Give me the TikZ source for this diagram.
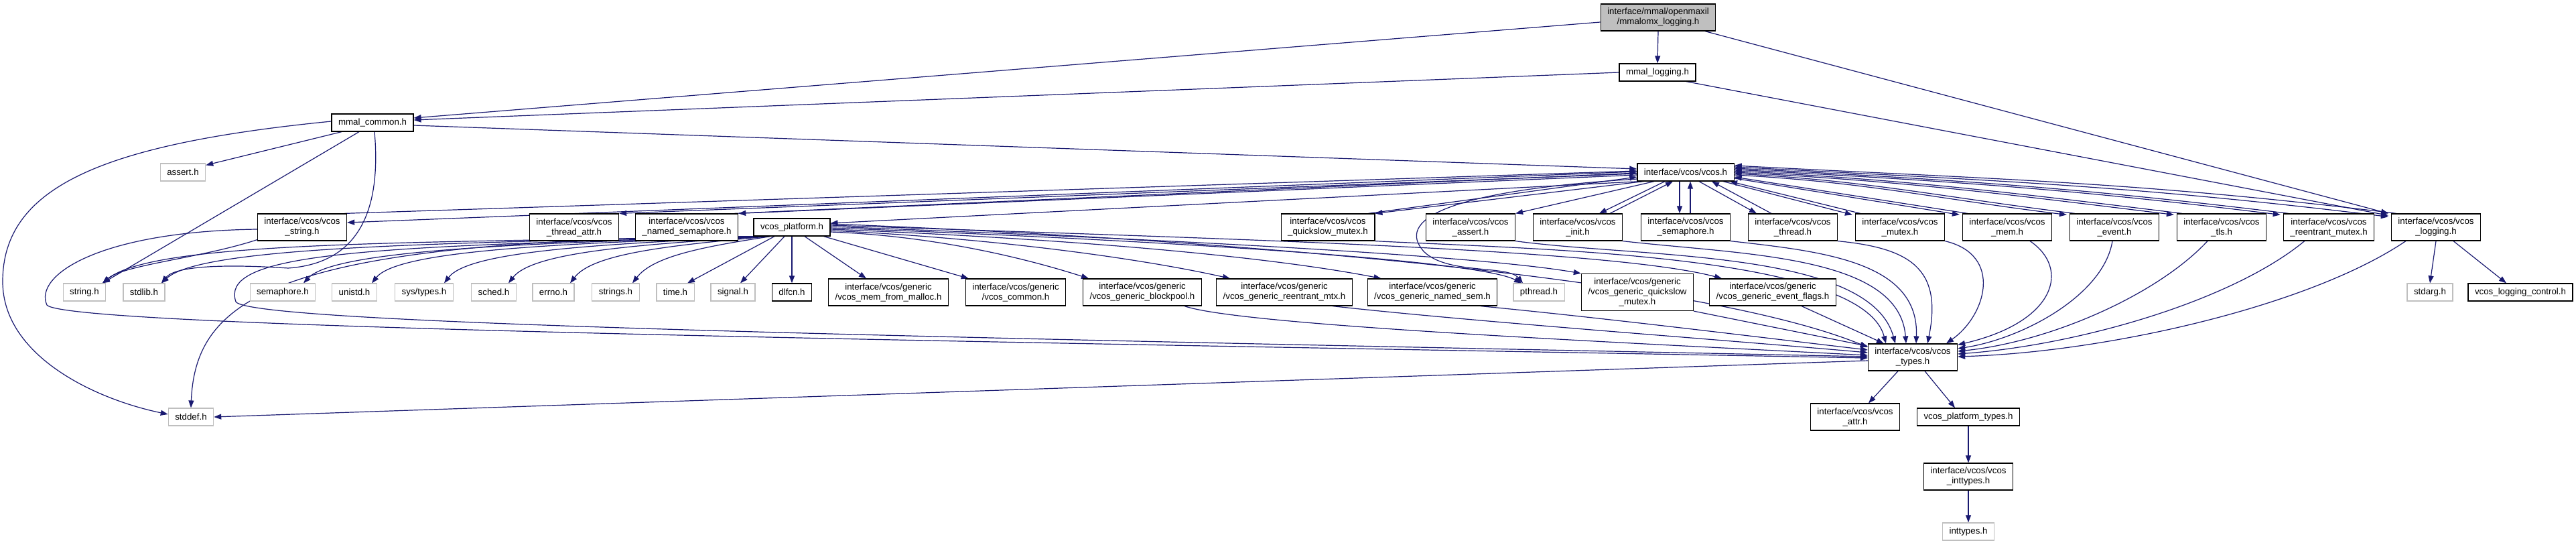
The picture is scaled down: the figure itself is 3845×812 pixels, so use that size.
\documentclass[tikz,border=0pt]{standalone}
\usepackage{fontspec}
\newfontfamily\dfont{Liberation Sans}
\usetikzlibrary{arrows.meta,calc}
\pgfdeclarelayer{edges}
\pgfsetlayers{edges,main}
\definecolor{edgeblue}{RGB}{25,25,112}
\definecolor{sysgray}{RGB}{191,191,191}
\definecolor{topgray}{RGB}{191,191,191}
\tikzset{
  nb/.style={rectangle, draw=black, fill=white, line width=1.2pt,
    font={\dfont\fontsize{13.3}{15}\selectfont}, inner xsep=10pt, inner ysep=0pt,
    minimum height=26pt, align=center},
  sb/.style={nb, draw=sysgray},
  two/.style={minimum height=40pt},
  three/.style={minimum height=55pt},
  topb/.style={fill=topgray},
  edge/.style={draw=edgeblue, line width=1.2pt, -{Triangle[length=11pt,width=8pt]}}
}
\begin{document}
\begin{tikzpicture}[x=1pt,y=-1pt]
\useasboundingbox (0,0) rectangle (3845,812);
% ---------- nodes ----------
\node[nb,two,topb] (top) at (2475,26) {interface/mmal/openmaxil\\/mmalomx\_logging.h};
\node[nb] (mlog) at (2474,108) {mmal\_logging.h};
\node[nb] (mcom) at (556,183) {mmal\_common.h};
\node[sb] (assert) at (273,257) {assert.h};
\node[nb] (vcos) at (2516,257) {interface/vcos/vcos.h};
% row 2
\node[nb,two] (vstring) at (451,339) {interface/vcos/vcos\\\_string.h};
\node[nb,two] (vtattr) at (857,339) {interface/vcos/vcos\\\_thread\_attr.h};
\node[nb,two] (vnsem) at (1025,339) {interface/vcos/vcos\\\_named\_semaphore.h};
\node[nb] (vplat) at (1182,339) {vcos\_platform.h};
\node[nb,two] (vqs) at (1982,339) {interface/vcos/vcos\\\_quickslow\_mutex.h};
\node[nb,two] (vassert) at (2195,339) {interface/vcos/vcos\\\_assert.h};
\node[nb,two] (vinit) at (2355,339) {interface/vcos/vcos\\\_init.h};
\node[nb,two] (vsem) at (2516,339) {interface/vcos/vcos\\\_semaphore.h};
\node[nb,two] (vthread) at (2676,339) {interface/vcos/vcos\\\_thread.h};
\node[nb,two] (vmutex) at (2836,339) {interface/vcos/vcos\\\_mutex.h};
\node[nb,two] (vmem) at (2996,339) {interface/vcos/vcos\\\_mem.h};
\node[nb,two] (vevent) at (3156,339) {interface/vcos/vcos\\\_event.h};
\node[nb,two] (vtls) at (3316,339) {interface/vcos/vcos\\\_tls.h};
\node[nb,two] (vreent) at (3476,339) {interface/vcos/vcos\\\_reentrant\_mutex.h};
\node[nb,two] (vlog) at (3636,339) {interface/vcos/vcos\\\_logging.h};
% row 3
\node[sb] (string) at (126,436) {string.h};
\node[sb] (stdlib) at (215,436) {stdlib.h};
\node[sb] (semaphore) at (422,436) {semaphore.h};
\node[sb] (unistd) at (529,436) {unistd.h};
\node[sb] (systypes) at (633,436) {sys/types.h};
\node[sb] (sched) at (737,436) {sched.h};
\node[sb] (errno) at (826,436) {errno.h};
\node[sb] (strings) at (919,436) {strings.h};
\node[sb] (time) at (1008,436) {time.h};
\node[sb] (signal) at (1094,436) {signal.h};
\node[nb] (dlfcn) at (1182,436) {dlfcn.h};
\node[nb,two] (gmalloc) at (1326,436) {interface/vcos/generic\\/vcos\_mem\_from\_malloc.h};
\node[nb,two] (gcommon) at (1516,436) {interface/vcos/generic\\/vcos\_common.h};
\node[nb,two] (gblock) at (1705,436) {interface/vcos/generic\\/vcos\_generic\_blockpool.h};
\node[nb,two] (greent) at (1917,436) {interface/vcos/generic\\/vcos\_generic\_reentrant\_mtx.h};
\node[nb,two] (gnamed) at (2138,436) {interface/vcos/generic\\/vcos\_generic\_named\_sem.h};
\node[sb] (pthread) at (2297,436) {pthread.h};
\node[nb,three] (gqs) at (2444,436) {interface/vcos/generic\\/vcos\_generic\_quickslow\\\_mutex.h};
\node[nb,two] (gevent) at (2646,436) {interface/vcos/generic\\/vcos\_generic\_event\_flags.h};
\node[sb] (stdarg) at (3627,436) {stdarg.h};
\node[nb] (vlogctrl) at (3762,436) {vcos\_logging\_control.h};
% lower
\node[nb,two] (vtypes) at (2855,533) {interface/vcos/vcos\\\_types.h};
\node[sb] (stddef) at (285,622) {stddef.h};
\node[nb,two] (vattr) at (2769,622) {interface/vcos/vcos\\\_attr.h};
\node[nb] (vptypes) at (2938,622) {vcos\_platform\_types.h};
\node[nb,two] (vinttypes) at (2938,711) {interface/vcos/vcos\\\_inttypes.h};
\node[sb] (inttypes) at (2938,793) {inttypes.h};
% ---------- edges ----------
\begin{pgfonlayer}{edges}
% top level
\draw[edge] ($(top.west)+(0,7)$) -- ($(mcom.east)+(0,-7)$);
\draw[edge] (top.south) -- (mlog.north);
\draw[edge] ($(top.south)+(70,0)$) -- ($(vlog.north west)+(-4,0)$);
\draw[edge] (mlog.west) -- ($(mcom.east)+(0,-4)$);
\draw[edge] ($(mlog.south)+(43,0)$) -- ($(vlog.north west)+(-4,3)$);
% mmal_common
\draw[edge] ($(mcom.east)+(0,4)$) -- ($(vcos.west)+(0,-5)$);
\draw[edge] ($(mcom.south)+(-46,0)$) -- ($(assert.north east)+(0,3)$);
\draw[edge] ($(mcom.south)+(-20,0)$) -- ($(string.north)+(27,0)$);
\draw[edge] ($(mcom.south)+(3,0)$) .. controls (568,300) and (545,392) .. (430,400) .. controls (340,394) and (262,396) .. ($(stdlib.north)+(26,0)$);
\draw[edge] ($(mcom.west)+(0,-2)$) .. controls (150,215) and (4,280) .. (4,420) .. controls (4,530) and (140,595) .. ($(stddef.west)+(0,-4)$);
% vcos.h to the left part of row 2
\draw[edge] ($(vcos.west)+(0,-1)$) -- ($(vstring.east)+(0,-7)$);
\draw[edge] ($(vstring.north east)+(-4,0)$) -- ($(vcos.west)+(0,-2)$);
\draw[edge] ($(vcos.west)+(0,2)$) -- (vtattr.north east);
\draw[edge] ($(vcos.west)+(0,4)$) -- (vnsem.north east);
\draw[edge] ($(vnsem.north east)+(-6,0)$) -- ($(vcos.west)+(0,1)$);
\draw[edge] ($(vcos.south west)+(5,0)$) -- ($(vplat.east)+(0,-6)$);
\draw[edge] ($(vcos.south west)+(10,0)$) -- (vqs.north east);
\draw[edge] ($(vqs.north east)+(-10,0)$) -- ($(vcos.west)+(0,7)$);
\draw[edge] ($(vcos.south)+(-47,0)$) -- (vassert.north east);
\draw[edge] ($(vcos.south)+(-31,0)$) -- ($(vinit.north)+(32,0)$);
\draw[edge] ($(vinit.north)+(48,0)$) -- ($(vcos.south)+(-19,0)$);
\draw[edge] ($(vcos.south)+(-9,0)$) -- ($(vsem.north)+(-9,0)$);
\draw[edge] ($(vsem.north)+(7,0)$) -- ($(vcos.south)+(7,0)$);
\draw[edge] ($(vcos.south)+(20,0)$) -- ($(vthread.north)+(-54,0)$);
\draw[edge] ($(vthread.north)+(-32,0)$) -- ($(vcos.south)+(39,0)$);
\draw[edge] ($(vcos.south)+(56,0)$) -- ($(vmutex.north west)+(-4,2)$);
\draw[edge] ($(vmutex.north west)+(8,0)$) -- ($(vcos.south)+(66,0)$);
% vcos.h to the right part of row 2
\draw[edge] ($(vcos.east)+(0,9)$) -- ($(vmem.north west)+(-4,2)$);
\draw[edge] ($(vmem.north west)+(8,0)$) -- ($(vcos.east)+(0,7)$);
\draw[edge] ($(vcos.east)+(0,4)$) to[out=-3,in=173] ($(vevent.north west)+(-4,2)$);
\draw[edge] ($(vevent.north west)+(8,0)$) to[out=173,in=-3] ($(vcos.east)+(0,2)$);
\draw[edge] ($(vcos.east)+(0,0)$) to[out=-3,in=173] ($(vtls.north west)+(-4,2)$);
\draw[edge] ($(vtls.north west)+(8,0)$) to[out=173,in=-3] ($(vcos.east)+(0,-2)$);
\draw[edge] ($(vcos.east)+(0,-4)$) to[out=-3,in=173] ($(vreent.north west)+(-4,2)$);
\draw[edge] ($(vreent.north west)+(8,0)$) to[out=173,in=-3] ($(vcos.east)+(0,-6)$);
\draw[edge] ($(vcos.east)+(0,-8)$) to[out=-3,in=173] ($(vlog.north west)+(-4,5)$);
\draw[edge] ($(vlog.north west)+(8,0)$) to[out=173,in=-3] ($(vcos.east)+(0,-10)$);
% vcos.h to pthread.h
\draw[edge] ($(vcos.west)+(0,10)$) .. controls (2150,285) and (2085,330) .. (2125,375) .. controls (2160,410) and (2250,395) .. ($(pthread.north)+(-24,0)$);
% vcos_platform.h to system headers
\draw[edge] ($(vplat.south west)+(10,0)$) .. controls (600,362) and (230,360) .. ($(string.north)+(27,0)$);
\draw[edge] ($(vplat.south west)+(12,0)$) .. controls (650,362) and (300,368) .. ($(stdlib.north)+(26,0)$);
\draw[edge] ($(vplat.south west)+(14,0)$) .. controls (420,356) and (292,440) .. (stddef.north);
\draw[edge] ($(vplat.south west)+(16,0)$) .. controls (800,362) and (500,372) .. ($(semaphore.north)+(31,0)$);
\draw[edge] ($(vplat.south west)+(18,0)$) .. controls (850,363) and (595,372) .. ($(unistd.north)+(26,0)$);
\draw[edge] ($(vplat.south west)+(20,0)$) .. controls (900,364) and (700,374) .. ($(systypes.north)+(30,0)$);
\draw[edge] ($(vplat.south west)+(22,0)$) .. controls (950,365) and (795,376) .. ($(sched.north)+(22,0)$);
\draw[edge] ($(vplat.south west)+(24,0)$) .. controls (1000,366) and (885,378) .. ($(errno.north)+(25,0)$);
\draw[edge] ($(vplat.south west)+(26,0)$) .. controls (1050,368) and (975,382) .. ($(strings.north)+(25,0)$);
\draw[edge] ($(vplat.south)+(-26,0)$) -- ($(time.north)+(18,0)$);
\draw[edge] ($(vplat.south)+(-11,0)$) -- ($(signal.north)+(11,0)$);
\draw[edge] (vplat.south) -- (dlfcn.north);
\draw[edge] ($(vplat.south)+(19,0)$) -- ($(gmalloc.north)+(-33,0)$);
\draw[edge] ($(vplat.south east)+(-10,0)$) -- ($(gcommon.north west)+(5,0)$);
\draw[edge] ($(vplat.east)+(0,7)$) .. controls (1395,352) and (1530,385) .. ($(gblock.north west)+(9,0)$);
\draw[edge] ($(vplat.east)+(0,5)$) .. controls (1480,355) and (1700,385) .. ($(greent.north west)+(21,0)$);
\draw[edge] ($(vplat.east)+(0,3)$) .. controls (1570,355) and (1880,380) .. ($(gnamed.north west)+(21,0)$);
\draw[edge] ($(vplat.east)+(0,1)$) .. controls (1650,355) and (2200,385) .. ($(pthread.north)+(-26,0)$);
\draw[edge] ($(vplat.east)+(0,-1)$) .. controls (1700,355) and (2200,380) .. (gqs.north west);
\draw[edge] ($(vplat.east)+(0,-3)$) .. controls (1780,355) and (2400,370) .. ($(gevent.north west)+(19,0)$);
\draw[edge] ($(vplat.east)+(0,-5)$) .. controls (1900,360) and (2550,420) .. ($(vtypes.west)+(0,-15)$);
% generic headers to vcos_types.h
\draw[edge] ($(gblock.south)+(63,0)$) .. controls (1850,485) and (2400,510) .. ($(vtypes.west)+(0,-3)$);
\draw[edge] ($(greent.south east)+(-30,0)$) .. controls (2200,480) and (2550,505) .. ($(vtypes.west)+(0,-7)$);
\draw[edge] ($(gnamed.south)+(72,0)$) .. controls (2400,475) and (2600,500) .. ($(vtypes.west)+(0,-11)$);
\draw[edge] (gqs.south east) -- ($(vtypes.north west)+(0,4)$);
\draw[edge] ($(gevent.south)+(43,0)$) -- ($(vtypes.north west)+(24,0)$);
% row 2 to vcos_types.h
\draw[edge] ($(vstring.west)+(0,3)$) .. controls (150,345) and (50,410) .. (70,455) .. controls (100,490) and (1500,510) .. ($(vtypes.west)+(0,1)$);
\draw[edge] ($(vnsem.south west)+(0,-2)$) .. controls (500,370) and (330,385) .. (352,450) .. controls (370,485) and (1500,505) .. ($(vtypes.west)+(0,-1)$);
\draw[edge] (vqs.south east) .. controls (2300,372) and (2780,380) .. ($(vtypes.north)+(-40,0)$);
\draw[edge] (vassert.south east) .. controls (2450,385) and (2790,372) .. ($(vtypes.north)+(-26,0)$);
\draw[edge] (vinit.south east) .. controls (2600,380) and (2835,380) .. ($(vtypes.north)+(-10,0)$);
\draw[edge] (vsem.south east) .. controls (2720,375) and (2865,390) .. ($(vtypes.north)+(5,0)$);
\draw[edge] (vthread.south east) .. controls (2850,370) and (2900,400) .. ($(vtypes.north)+(22,0)$);
\draw[edge] (vmutex.south east) .. controls (2990,380) and (2965,470) .. ($(vtypes.north)+(50,0)$);
\draw[edge] ($(vmem.south)+(34,0)$) .. controls (3090,400) and (3070,480) .. ($(vtypes.north east)+(0,2)$);
\draw[edge] ($(vevent.south)+(-3,0)$) .. controls (3140,440) and (3020,505) .. ($(vtypes.east)+(0,-13)$);
\draw[edge] ($(vtls.south)+(-21,0)$) .. controls (3220,440) and (3060,510) .. ($(vtypes.east)+(0,-9)$);
\draw[edge] ($(vreent.south west)+(32,0)$) .. controls (3330,450) and (3100,515) .. ($(vtypes.east)+(0,-5)$);
\draw[edge] ($(vlog.south west)+(22,0)$) .. controls (3450,455) and (3150,525) .. ($(vtypes.east)+(0,-1)$);
% vcos_string.h to string.h
\draw[edge] ($(vstring.south west)+(0,-2)$) .. controls (300,385) and (185,395) .. ($(string.north)+(27,0)$);
% vcos_types.h and below
\draw[edge] ($(vtypes.west)+(0,5)$) -- (stddef.east);
\draw[edge] ($(vtypes.south)+(-22,0)$) -- ($(vattr.north)+(20,0)$);
\draw[edge] ($(vtypes.south)+(18,0)$) -- ($(vptypes.north)+(-20,0)$);
\draw[edge] (vptypes.south) -- (vinttypes.north);
\draw[edge] (vinttypes.south) -- (inttypes.north);
% vcos_logging.h
\draw[edge] (vlog.south) -- (stdarg.north);
\draw[edge] ($(vlog.south)+(26,0)$) -- ($(vlogctrl.north)+(-21,0)$);
\end{pgfonlayer}
\end{tikzpicture}
\end{document}
